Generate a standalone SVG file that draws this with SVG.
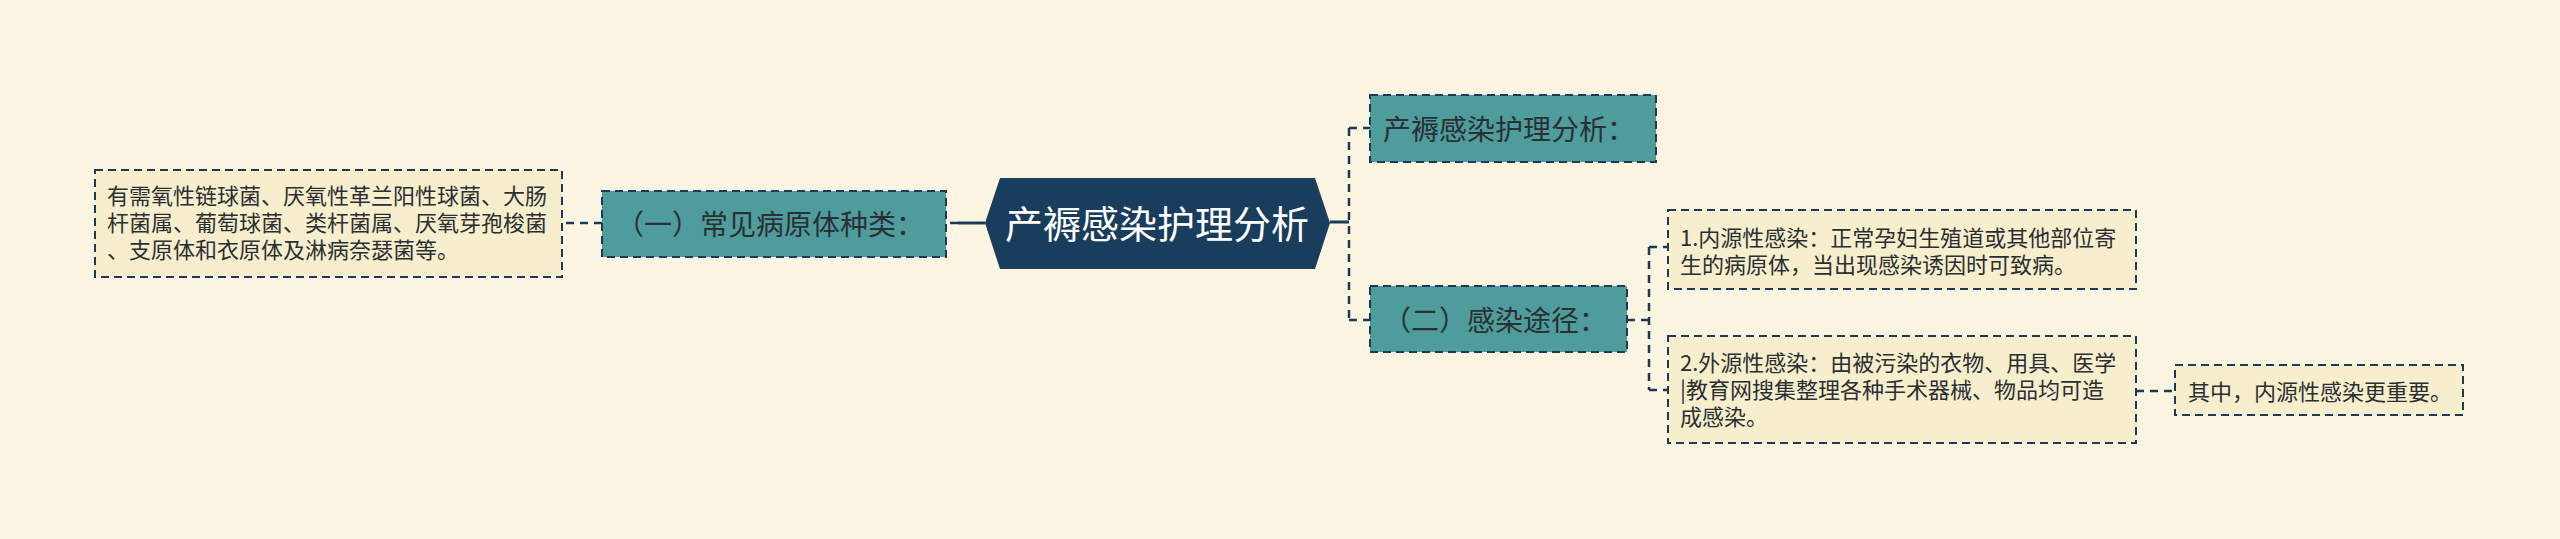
<svg xmlns="http://www.w3.org/2000/svg" width="2560" height="539" viewBox="0 0 2560 539">
<style>
.bg{fill:#FBF5E1}
.teal{fill:#4F9C9C;stroke:#1B3A57;stroke-width:2;stroke-dasharray:8 5}
.light{fill:#F6EECC;stroke:#1B3A57;stroke-width:2;stroke-dasharray:8 5}
.hex{fill:#193D5C}
.conn{fill:none;stroke:#1B3A57;stroke-width:2.5;stroke-dasharray:8 6}
.solid{fill:none;stroke:#1B3A57;stroke-width:3}
.t{font-family:"Microsoft YaHei","Noto Sans CJK SC",sans-serif;fill:#2A2F33}
.s22{font-size:22px}
.s28{font-size:28px}
.root{font-family:"Microsoft YaHei","Noto Sans CJK SC",sans-serif;font-size:38px;fill:#FFFFFF}
</style>
<rect class="bg" x="0" y="0" width="2560" height="539"/>
<g id="connectors">
<path class="solid" d="M985 223 L958 223"/>
<path class="conn" d="M958 223 L946 223"/>
<path class="conn" d="M602 223 L562 223"/>
<path class="solid" d="M1330 222 L1349 222"/>
<path class="conn" d="M1349 128 L1349 320"/>
<path class="conn" d="M1349 128 L1370 128"/>
<path class="conn" d="M1349 320 L1370 320"/>
<path class="conn" d="M1627 320 L1649 320"/>
<path class="conn" d="M1649 247 L1649 390"/>
<path class="conn" d="M1649 247 L1668 247"/>
<path class="conn" d="M1649 390 L1668 390"/>
<path class="conn" d="M2136 391 L2175 391"/>
</g>
<g id="root">
<polygon class="hex" points="985,223 1000,178 1315,178 1330,223 1315,269 1000,269"/>
<text class="root" x="1157" y="238" text-anchor="middle">产褥感染护理分析</text>
</g>
<g id="node-pathogens">
<rect class="teal" x="602" y="191" width="344" height="66"/>
<text class="t s28" x="616" y="235">（一）常见病原体种类：</text>
</g>
<g id="node-pathogens-detail">
<rect class="light" x="95" y="170" width="467" height="107"/>
<text class="t s22" x="107" y="204">有需氧性链球菌、厌氧性革兰阳性球菌、大肠</text>
<text class="t s22" x="107" y="231">杆菌属、葡萄球菌、类杆菌属、厌氧芽孢梭菌</text>
<text class="t s22" x="107" y="258">、支原体和衣原体及淋病奈瑟菌等。</text>
</g>
<g id="node-analysis">
<rect class="teal" x="1370" y="95" width="286" height="67"/>
<text class="t s28" x="1383" y="140">产褥感染护理分析：</text>
</g>
<g id="node-route">
<rect class="teal" x="1370" y="286" width="257" height="66"/>
<text class="t s28" x="1383" y="331">（二）感染途径：</text>
</g>
<g id="node-endogenous">
<rect class="light" x="1668" y="210" width="468" height="79"/>
<text class="t s22" x="1680" y="246">1.内源性感染：正常孕妇生殖道或其他部位寄</text>
<text class="t s22" x="1680" y="273">生的病原体，当出现感染诱因时可致病。</text>
</g>
<g id="node-exogenous">
<rect class="light" x="1668" y="336" width="468" height="107"/>
<text class="t s22" x="1680" y="371">2.外源性感染：由被污染的衣物、用具、医学</text>
<text class="t s22" x="1680" y="398">|教育网搜集整理各种手术器械、物品均可造</text>
<text class="t s22" x="1680" y="425">成感染。</text>
</g>
<g id="node-note">
<rect class="light" x="2175" y="365" width="288" height="50"/>
<text class="t s22" x="2188" y="400">其中，内源性感染更重要。</text>
</g>
</svg>
